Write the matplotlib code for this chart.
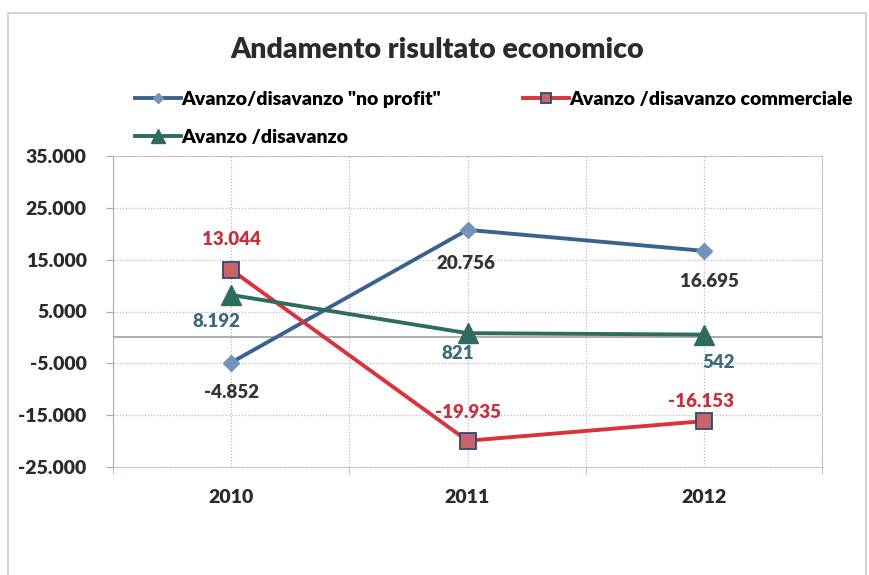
import matplotlib.pyplot as plt
import matplotlib.patches as patches
from matplotlib.ticker import FuncFormatter

years = ['2010', '2011', '2012']
no_profit = [-4852, 20756, 16695]
commerciale = [13044, -19935, -16153]
totale = [8192, 821, 542]

# label offsets in pixels (dx, dy), dy positive = up
off_no_profit = [(0, -30), (-2, -34), (6, -31)]
off_comm = [(0, 30), (0, 28), (-3, 20)]
off_tot = [(-15, -27), (-10, -20), (15, -28)]

plt.rcParams['font.family'] = ['Lato', 'DejaVu Sans']
plt.rcParams['font.weight'] = 'heavy'

fig = plt.figure(figsize=(8.69, 5.75), dpi=100)
ax = fig.add_axes([113/869, 1-467/575, (822-113)/869, (467-156)/575])

# outer chart frame
fig.patches.append(patches.Rectangle((8/869, -0.05), (866-8)/869, 1.05-13/575,
                                     transform=fig.transFigure, fill=False,
                                     edgecolor='#d2c8ce', linewidth=1.2))

x = range(len(years))
blue = '#3b628f'
red = '#d9343c'
green = '#2f6b5f'

l1, = ax.plot(x, no_profit, color=blue, lw=2.8, marker='D', ms=8,
              mfc='#7393b8', mec='#7393b8', label='Avanzo/disavanzo "no profit"', zorder=4)
l2, = ax.plot(x, commerciale, color=red, lw=2.8, marker='s', ms=11,
              mfc='#c9636b', mec='#2c4a6e', mew=1.3, label='Avanzo /disavanzo commerciale', zorder=4)
l3, = ax.plot(x, totale, color=green, lw=2.8, marker='^', ms=15,
              mfc=green, mec=green, label='Avanzo /disavanzo', zorder=4)

def fmt(v):
    return f'{v:,.0f}'.replace(',', '.')

for xs, vals, offs, col in [(x, no_profit, off_no_profit, '#353535'),
                            (x, commerciale, off_comm, '#c8303e'),
                            (x, totale, off_tot, '#3d6c80')]:
    for xi, v, (dx, dy) in zip(xs, vals, offs):
        ax.annotate(fmt(v), (xi, v), xytext=(dx*0.72, dy*0.72), textcoords='offset points',
                    ha='center', va='center', fontsize=13.5, color=col, fontweight='heavy', zorder=5)

ax.set_xlim(-0.5, 2.5)
ax.set_ylim(-25000, 35000)
ax.set_yticks(range(-25000, 35001, 10000))
ax.yaxis.set_major_formatter(FuncFormatter(lambda v, p: fmt(v)))
ax.set_xticks(list(x))
ax.set_xticklabels(years)
ax.set_xticks([-0.5, 0.5, 1.5, 2.5], minor=True)

ax.grid(True, which='both', color='#c8b4c4', linestyle=(0, (1, 1.5)), linewidth=0.9)
ax.axhline(0, color='#a0a0a0', lw=1.2, zorder=2)
for s in ax.spines.values():
    s.set_color('#c8b4c4')
    s.set_linestyle((0, (1, 1.5)))
ax.spines['left'].set_linestyle('-')
ax.spines['left'].set_color('#b0a8b0')

ax.tick_params(axis='y', labelsize=14, colors='#b0a8b0', labelcolor='#2b2b2b', length=5, pad=14)
ax.tick_params(axis='x', which='major', labelsize=14, labelcolor='#2b2b2b', length=0, pad=16)
ax.tick_params(axis='x', which='minor', length=5, colors='#c8b4c4')

fig.text(437/869, 1-50/575, 'Andamento risultato economico', ha='center', va='center',
         fontsize=20.5, fontweight='heavy', color='#2b2b2b')

fig.legend(handles=[l1, l3, l2], loc='upper left', bbox_to_anchor=(127/869, 1-83/575),
           ncol=2, frameon=False, fontsize=14, handlelength=2.4, handletextpad=0.0,
           columnspacing=4.2, labelspacing=1.1, markerscale=0.7, borderaxespad=0)

fig.savefig('out.png', dpi=100)
